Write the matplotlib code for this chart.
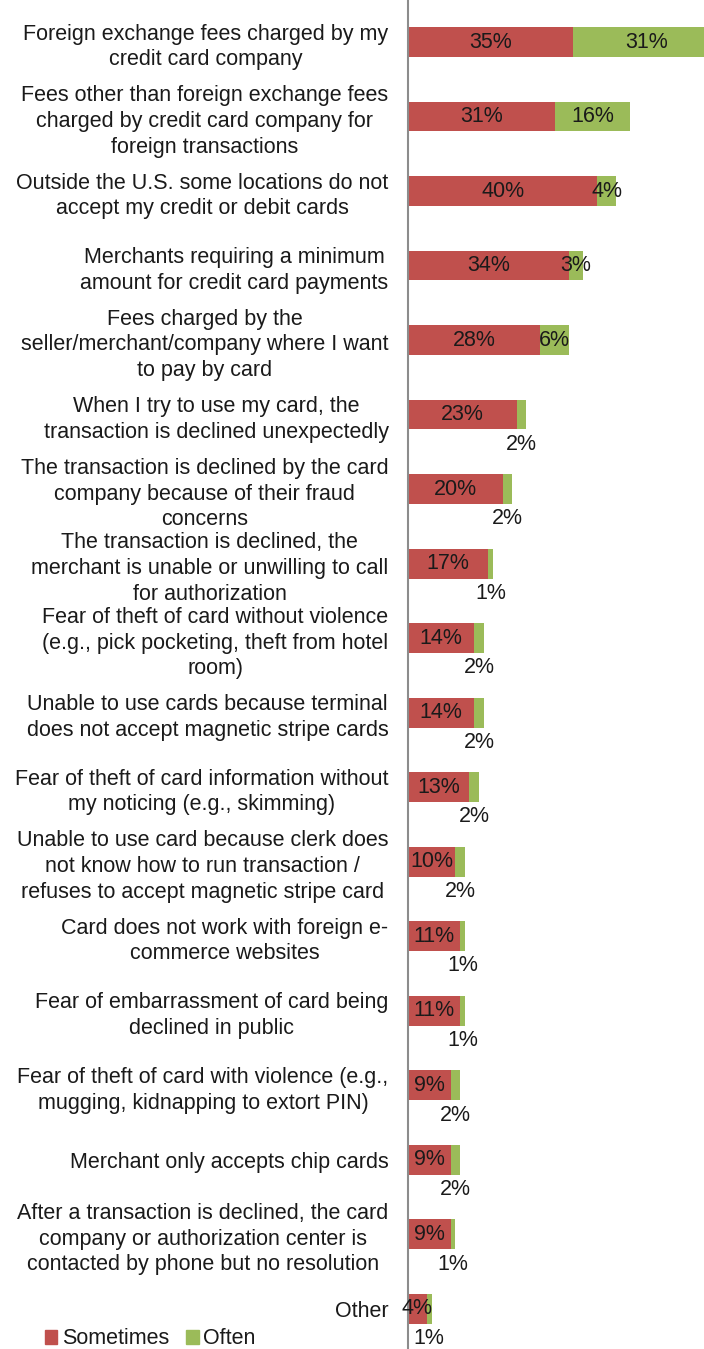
import numpy as np
import matplotlib.pyplot as plt
from matplotlib.patches import Patch

plt.rcParams['font.family'] = ['Liberation Sans', 'DejaVu Sans']

categories = [
    "Foreign exchange fees charged by my\ncredit card company",
    "Fees other than foreign exchange fees\ncharged by credit card company for\nforeign transactions",
    "Outside the U.S. some locations do not\naccept my credit or debit cards",
    "Merchants requiring a minimum\namount for credit card payments",
    "Fees charged by the\nseller/merchant/company where I want\nto pay by card",
    "When I try to use my card, the\ntransaction is declined unexpectedly",
    "The transaction is declined by the card\ncompany because of their fraud\nconcerns",
    "The transaction is declined, the\nmerchant is unable or unwilling to call\nfor authorization",
    "Fear of theft of card without violence\n(e.g., pick pocketing, theft from hotel\nroom)",
    "Unable to use cards because terminal\ndoes not accept magnetic stripe cards",
    "Fear of theft of card information without\nmy noticing (e.g., skimming)",
    "Unable to use card because clerk does\nnot know how to run transaction /\nrefuses to accept magnetic stripe card",
    "Card does not work with foreign e-\ncommerce websites",
    "Fear of embarrassment of card being\ndeclined in public",
    "Fear of theft of card with violence (e.g.,\nmugging, kidnapping to extort PIN)",
    "Merchant only accepts chip cards",
    "After a transaction is declined, the card\ncompany or authorization center is\ncontacted by phone but no resolution",
    "Other",
]
sometimes = [35, 31, 40, 34, 28, 23, 20, 17, 14, 14, 13, 10, 11, 11, 9, 9, 9, 4]
often = [31, 16, 4, 3, 6, 2, 2, 1, 2, 2, 2, 2, 1, 1, 2, 2, 1, 1]

RED = '#C0504D'
GREEN = '#9BBB59'
TXT = '#1a1a1a'
FS = 15.5

fig = plt.figure(figsize=(7.04, 13.49), dpi=100)
ax = fig.add_axes([408 / 704, 0, 296 / 704, 1])

y = np.arange(len(categories))
s = np.array(sometimes)
o = np.array(often)
ax.barh(y, s, height=0.4, color=RED)
ax.barh(y, o, left=s, height=0.4, color=GREEN)

# value labels: inside the segment, small "often" values go under the bar
for yi, sv, ov in zip(y, s, o):
    ax.text(sv / 2, yi, f"{sv}%", ha='center', va='center', fontsize=FS, color=TXT)
    if ov >= 3:
        ax.text(sv + ov / 2, yi, f"{ov}%", ha='center', va='center', fontsize=FS, color=TXT)
    else:
        ax.text(sv + ov / 2, yi + 0.4, f"{ov}%", ha='center', va='center', fontsize=FS, color=TXT)

ax.set_xlim(0, 62.6)
ax.set_ylim(17.54, -0.564)
ax.set_xticks([])
ax.set_yticks(y)
ax.set_yticklabels(categories, fontsize=FS, color=TXT, ha='right',
                   multialignment='center', linespacing=1.3)
ax.tick_params(axis='y', length=0, pad=14)
for side in ['top', 'right', 'bottom']:
    ax.spines[side].set_visible(False)
ax.spines['left'].set_color('#8c8c8c')
ax.spines['left'].set_linewidth(1.5)

handles = [Patch(color=RED, label='Sometimes'), Patch(color=GREEN, label='Often')]
fig.legend(handles=handles, loc='center left', bbox_to_anchor=(0.048, 1 - 1339 / 1349),
           ncol=2, frameon=False, fontsize=FS, handlelength=0.6, handleheight=0.6,
           handletextpad=0.2, columnspacing=0.8, borderpad=0, labelcolor=TXT)

fig.savefig('out.png', dpi=100)
